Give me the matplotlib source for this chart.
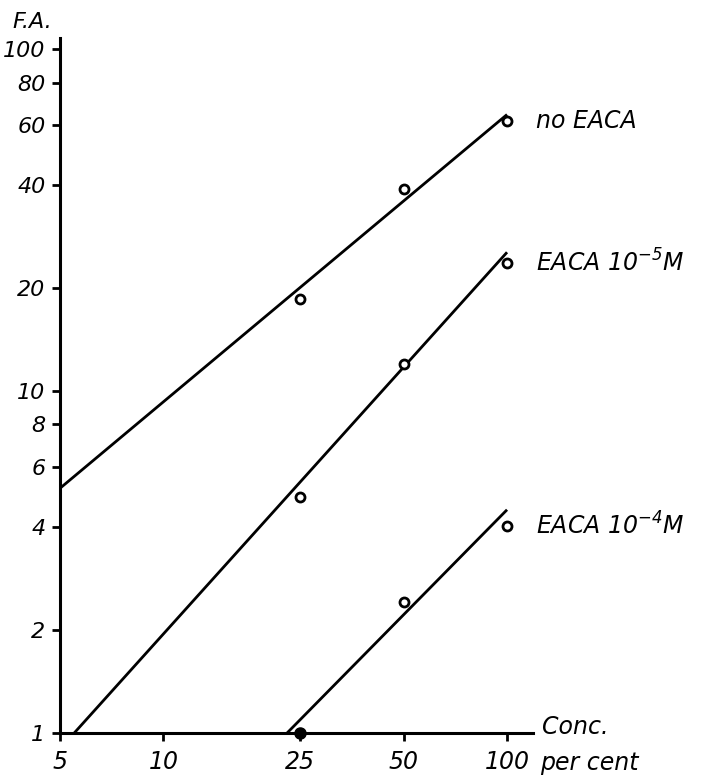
import matplotlib
matplotlib.use("Agg")
import matplotlib.pyplot as plt

plt.rcParams['font.family'] = ['DejaVu Sans']
plt.rcParams['font.style'] = 'italic'
plt.rcParams['mathtext.fontset'] = 'dejavusans'

# measured points (conc. per cent, F.A.)
conc = [25, 50, 100]
fa_no_eaca = [18.6, 39.0, 61.6]
fa_eaca_5 = [4.9, 12.0, 23.8]
conc_e4 = [50, 100]
fa_eaca_4 = [2.42, 4.03]
zero_point = (25, 1)   # filled dot on the axis

# fitted straight lines (ends)
fit_no_x, fit_no_y = [5, 100], [5.2, 64.5]
fit_e5_x, fit_e5_y = [5.5, 100], [1, 25.5]
fit_e4_x, fit_e4_y = [22.9, 100], [1, 4.5]

xticks = [5, 10, 25, 50, 100]
yticks = [1, 2, 4, 6, 8, 10, 20, 40, 60, 80, 100]

labels = ["no EACA", r"EACA $\mathit{10^{-5}}$M", r"EACA $\mathit{10^{-4}}$M"]

fig = plt.figure(figsize=(7.08, 7.78), dpi=100)
ax = fig.add_axes([60 / 708, 1 - 733 / 778, 473 / 708, 695 / 778])

lw = 2.0
for fx, fy in [(fit_no_x, fit_no_y), (fit_e5_x, fit_e5_y), (fit_e4_x, fit_e4_y)]:
    ax.plot(fx, fy, color="black", lw=lw, solid_capstyle="butt")

mk = dict(ls="none", marker="o", ms=6.5, mfc="white", mec="black", mew=2.0, zorder=3)
ax.plot(conc, fa_no_eaca, **mk)
ax.plot(conc, fa_eaca_5, **mk)
ax.plot(conc_e4, fa_eaca_4, **mk)
ax.plot(*zero_point, marker="o", ms=8, color="black", clip_on=False, zorder=4)

ax.set_xscale("log")
ax.set_yscale("log")
ax.set_xlim(5, 119)
ax.set_ylim(1, 108)

ax.set_xticks(xticks)
ax.set_xticklabels([str(v) for v in xticks])
ax.set_yticks(yticks)
ax.set_yticklabels([str(v) for v in yticks])
ax.minorticks_off()
ax.tick_params(axis="both", direction="out", length=5.5, width=2.0)
ax.tick_params(axis="x", labelsize=17, pad=7)
ax.tick_params(axis="y", labelsize=16, pad=5)

for s in ["top", "right"]:
    ax.spines[s].set_visible(False)
for s in ["left", "bottom"]:
    ax.spines[s].set_linewidth(2.2)

# curve labels
for y, lab in zip([fa_no_eaca[-1], fa_eaca_5[-1], fa_eaca_4[-1]], labels):
    ax.annotate(lab, xy=(100, y), xytext=(21, 0), textcoords="offset points",
                va="center", ha="left", fontsize=17, annotation_clip=False)

fig.text(12 / 708, 1 - 22 / 778, "F.A.", fontsize=16, va="center", ha="left")
fig.text(542 / 708, 1 - 727 / 778, "Conc.", fontsize=17, va="center", ha="left")
fig.text(540 / 708, 1 - 763 / 778, "per cent", fontsize=17, va="center", ha="left")

fig.savefig("out.png", dpi=100)
